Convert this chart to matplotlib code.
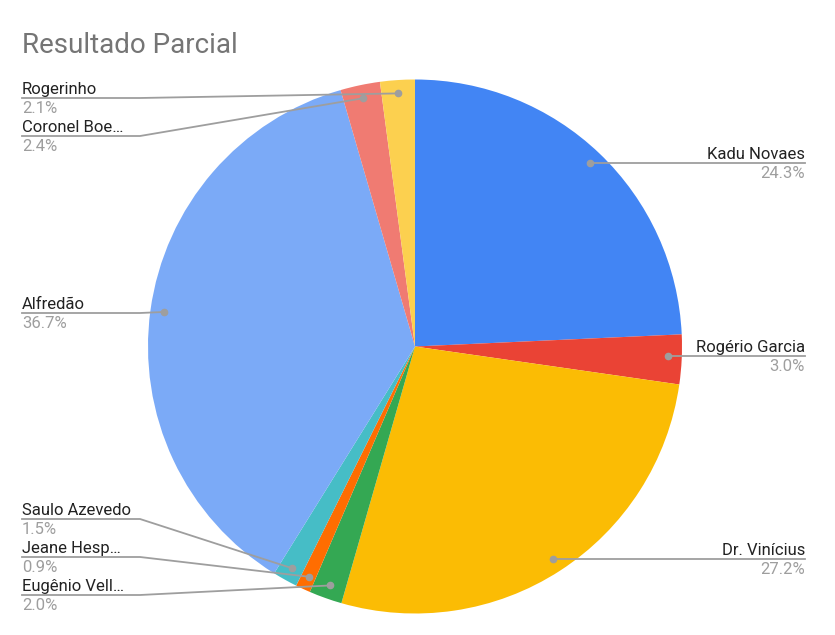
import numpy as np
import matplotlib.pyplot as plt

names = ['Kadu Novaes', 'Rogério Garcia', 'Dr. Vinícius', 'Eugênio Vell…',
         'Jeane Hesp…', 'Saulo Azevedo', 'Alfredão', 'Coronel Boe…', 'Rogerinho']
values = [24.3, 3.0, 27.2, 2.0, 0.9, 1.5, 36.7, 2.4, 2.1]
colors = ['#4285F4', '#EA4335', '#FBBC04', '#34A853', '#FF6D01',
          '#46BDC6', '#7BAAF7', '#F07B72', '#FCD04F']

# layout (pixel coords, y from top)
W, H = 835, 635
cx, cy, R = 415, 346.5, 267
label_side = ['R', 'R', 'R', 'L', 'L', 'L', 'L', 'L', 'L']
label_y = [163, 356, 559, 595, 557, 519, 313, 136, 98]
left_x, right_x, knee_x = 22, 805, 140

plt.rcParams['font.family'] = ['Roboto', 'DejaVu Sans']

fig = plt.figure(figsize=(W / 100, H / 100), dpi=100)
ax = fig.add_axes([0, 0, 1, 1])
ax.axis('off')

def Y(y):
    return H - y

ax.pie(values, colors=colors, startangle=90, counterclock=False,
       center=(cx, Y(cy)), radius=R, wedgeprops=dict(linewidth=0))
ax.set_xlim(0, W)
ax.set_ylim(0, H)
ax.set_aspect('equal')

total = sum(values)
cum = 0
line_c = '#9e9e9e'
for name, v, side, ly in zip(names, values, label_side, label_y):
    mid = cum + v / 2
    cum += v
    ang = np.deg2rad(90 - 360 * mid / total)
    dx = cx + 0.95 * R * np.cos(ang)
    dy = cy - 0.95 * R * np.sin(ang)
    pct = f'{100 * v / total:.1f}%'
    if side == 'R':
        ax.plot([dx, right_x], [Y(ly), Y(ly)], color=line_c, lw=1.3, zorder=3)
        ax.plot(dx, Y(ly), 'o', color=line_c, ms=4.5, zorder=4)
        ax.text(right_x, Y(ly - 4), name, ha='right', va='baseline',
                fontsize=12, color='#222222')
        ax.text(right_x, Y(ly + 3), pct, ha='right', va='top',
                fontsize=12, color='#9e9e9e')
    else:
        ax.plot([left_x, knee_x, dx], [Y(ly), Y(ly), Y(dy)], color=line_c,
                lw=1.3, zorder=3)
        ax.plot(dx, Y(dy), 'o', color=line_c, ms=4.5, zorder=4)
        ax.text(left_x, Y(ly - 4), name, ha='left', va='baseline',
                fontsize=12, color='#222222')
        ax.text(left_x, Y(ly + 3), pct, ha='left', va='top',
                fontsize=12, color='#9e9e9e')

ax.text(22, Y(53), 'Resultado Parcial', ha='left', va='baseline',
        fontsize=20, color='#757575')

fig.savefig('out.png', dpi=100)
